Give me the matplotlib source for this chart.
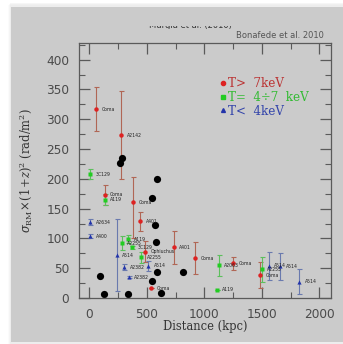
import matplotlib
matplotlib.use('Agg')
import matplotlib.pyplot as plt
from matplotlib.patches import Rectangle
from matplotlib.lines import Line2D

plt.rcParams['mathtext.fontset'] = 'dejavuserif'

# T > 7 keV
hot_x = [58, 276, 133, 377, 441, 487, 537, 734, 922, 1252, 1487]
hot_y = [317, 273, 173, 161, 129, 78, 16, 85, 67, 58, 38]
hot_lo = [37, 74, 17, 60, 16, 17, 0, 28, 27, 11, 22]
hot_hi = [37, 74, 17, 42, 16, 17, 0, 28, 27, 11, 22]
hot_names = ['Coma', 'A2142', 'Coma', 'Coma', 'A401', 'Ophiuchus', 'Coma',
             'A401', 'Coma', 'Coma', 'Coma']

# T = 4-7 keV
mid_x = [6, 133, 337, 282, 371, 450, 1125, 1108, 1499]
mid_y = [208, 165, 99, 92, 85, 68, 55, 14, 48]
mid_err = [8, 9, 6, 12, 3, 10, 18, 0, 21]
mid_names = ['3C129', 'A119', 'A119', 'A2255', '3C129', 'A2255', 'A2063',
             'A119', 'A2255']

# T < 4 keV
cold_x = [6, 6, 238, 513, 305, 342, 1557, 1658, 1823]
cold_y = [127, 104, 72, 54, 52, 35, 54, 53, 27]
cold_err = [5, 4, 60, 8, 5, 2, 23, 23, 21]
cold_names = ['A2634', 'A400', 'A514', 'A514', 'A2382', 'A2382', 'A514',
              'A514', 'A514']

# simulated clusters (black dots)
sim_x = [281, 267, 586, 542, 571, 580, 96, 131, 334, 542, 586, 623, 811]
sim_y = [235, 227, 200, 168, 123, 94, 37, 7, 7, 29, 44, 8, 44]

W, H = 343, 344
fig = plt.figure(figsize=(W / 100, H / 100), dpi=100)
fig.patch.set_facecolor('white')

panel = '#cbcbcb'
# grey panel with a soft shadow on the left
for i, a in enumerate([0.04, 0.07, 0.11]):
    fig.patches.append(Rectangle(((8 + i) / W, 0), 1, (H - 5 + i) / H,
                                 transform=fig.transFigure,
                                 facecolor='#b0b0b0', alpha=a, zorder=-3))
fig.patches.append(Rectangle((11 / W, 2 / H), 1, 335 / H,
                             transform=fig.transFigure,
                             facecolor=panel, zorder=-2))

ax = fig.add_axes([79 / W, 1 - 298 / H, 252 / W, 255 / H])
ax.set_facecolor('none')

spine_col = '#5a5a5a'
for s in ax.spines.values():
    s.set_color(spine_col)
    s.set_linewidth(0.9)

eb = dict(fmt='none', elinewidth=0.8, capsize=1.8, capthick=0.8)
ax.errorbar(hot_x, hot_y, yerr=[hot_lo, hot_hi], ecolor='#b06655', **eb)
ax.errorbar(mid_x, mid_y, yerr=mid_err, ecolor='#5cbf5c', **eb)
ax.errorbar(cold_x, cold_y, yerr=cold_err, ecolor='#6a7aae', **eb)

ax.plot(hot_x, hot_y, 'o', color='#dd2222', ms=3.2, mec='none')
ax.plot(mid_x, mid_y, 's', color='#22cc22', ms=3.0, mec='none')
ax.plot(cold_x, cold_y, '^', color='#2233aa', ms=3.0, mec='none')
ax.plot(sim_x, sim_y, 'o', color='black', ms=5.2, mec='none')

for xs, ys, names in [(hot_x, hot_y, hot_names), (mid_x, mid_y, mid_names),
                      (cold_x, cold_y, cold_names)]:
    for x, y, n in zip(xs, ys, names):
        ax.annotate(n, (x, y), xytext=(4, 0), textcoords='offset points',
                    fontsize=3.3, va='center', color='#222222')

ax.set_xlim(-90, 2100)
ax.set_ylim(0, 428)
ax.set_xticks([0, 500, 1000, 1500, 2000])
ax.set_xticks([250, 750, 1250, 1750], minor=True)
ax.set_yticks(range(0, 401, 50))
ax.set_yticks(range(25, 426, 50), minor=True)
ax.tick_params(which='both', direction='in', top=True, right=True,
               color=spine_col, labelcolor='#4a4a4a', labelsize=8.7)
ax.tick_params(which='major', length=8, width=0.9, pad=7)
ax.tick_params(which='minor', length=4, width=0.8)

ax.set_xlabel('Distance (kpc)', family='DejaVu Serif', fontsize=8.3,
              color='#333333')
ax.xaxis.set_label_coords(0.5, -0.085)
ax.set_ylabel(r'$\sigma_{\rm RM}\!\times\!(1\!+\!z)^2$ (rad/m$^2$)',
              family='DejaVu Serif', fontsize=8.3, color='#333333')
ax.yaxis.set_label_coords(-0.175, 0.5)

handles = [Line2D([], [], ls='none', marker='o', color='#dd2222', ms=3),
           Line2D([], [], ls='none', marker='s', color='#22cc22', ms=2.8),
           Line2D([], [], ls='none', marker='^', color='#2233aa', ms=2.8)]
leg = ax.legend(handles, ['T>  7keV', 'T=  4÷7  keV', 'T<  4keV'],
                loc='upper left', bbox_to_anchor=(0.56, 0.865),
                frameon=False, handlelength=0.5, handletextpad=0.15,
                labelspacing=0.05, borderpad=0, borderaxespad=0,
                prop={'family': 'DejaVu Serif', 'size': 8.6},
                labelcolor=['#bb3333', '#33bb33', '#3344aa'])

fig.text(324 / W, 1 - 35 / H, 'Bonafede et al. 2010', ha='right',
         va='center', fontsize=6, color='#555555')

# heading of the panel, only its lower edge shows inside a thin strip
head_ax = fig.add_axes([120 / W, 1 - 29 / H, 150 / W, 3.5 / H])
head_ax.axis('off')
head_ax.text(0.467, 0.29, 'Murgia et al. (2010)', ha='center',
             va='baseline', fontsize=6, color='#333333',
             transform=head_ax.transAxes, clip_on=True)

fig.savefig('out.png', dpi=100)
